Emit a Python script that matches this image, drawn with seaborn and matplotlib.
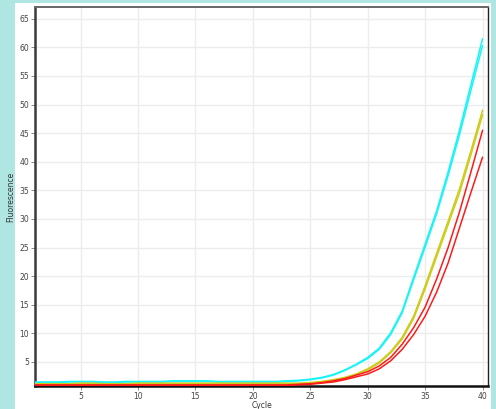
import numpy as np
import pandas as pd
import matplotlib
matplotlib.use("Agg")
import matplotlib.pyplot as plt
import seaborn as sns
from matplotlib.patches import Rectangle

cycles = list(range(1, 41))

cyan_a = [1.5, 1.5, 1.5, 1.6, 1.6, 1.6, 1.5, 1.5, 1.6, 1.6, 1.6, 1.6, 1.7, 1.7, 1.7, 1.7, 1.6, 1.6, 1.6, 1.6,
          1.6, 1.6, 1.7, 1.8, 2.0, 2.3, 2.8, 3.6, 4.6, 5.8, 7.4, 10.1, 13.9, 19.8, 25.6, 31.4, 38.2, 45.6, 53.6, 61.5]
cyan_b = [1.4, 1.4, 1.4, 1.5, 1.5, 1.5, 1.4, 1.4, 1.5, 1.5, 1.5, 1.5, 1.6, 1.6, 1.6, 1.6, 1.5, 1.5, 1.5, 1.5,
          1.5, 1.5, 1.6, 1.7, 1.9, 2.2, 2.7, 3.5, 4.5, 5.6, 7.2, 9.8, 13.6, 19.4, 25.1, 30.9, 37.6, 44.8, 52.6, 60.3]
yellow_a = [1.2, 1.2, 1.2, 1.2, 1.3, 1.3, 1.2, 1.2, 1.2, 1.3, 1.3, 1.3, 1.3, 1.3, 1.3, 1.3, 1.3, 1.3, 1.3, 1.3,
            1.3, 1.3, 1.3, 1.3, 1.4, 1.6, 1.9, 2.3, 2.9, 3.8, 5.0, 6.8, 9.3, 13.0, 18.3, 24.0, 29.6, 35.3, 42.0, 49.0]
yellow_b = [1.1, 1.1, 1.1, 1.1, 1.2, 1.2, 1.1, 1.1, 1.1, 1.2, 1.2, 1.2, 1.2, 1.2, 1.2, 1.2, 1.2, 1.2, 1.2, 1.2,
            1.2, 1.2, 1.2, 1.2, 1.3, 1.5, 1.8, 2.2, 2.8, 3.6, 4.8, 6.6, 9.0, 12.6, 17.8, 23.4, 29.0, 34.6, 41.3, 48.2]
red_a = [1.0, 1.0, 1.0, 1.0, 1.0, 1.0, 1.0, 1.0, 1.0, 1.0, 1.0, 1.0, 1.0, 1.0, 1.0, 1.0, 1.0, 1.0, 1.0, 1.0,
         1.0, 1.0, 1.0, 1.1, 1.2, 1.4, 1.7, 2.1, 2.7, 3.3, 4.3, 5.8, 8.1, 11.0, 14.6, 19.5, 25.0, 31.3, 38.3, 45.5]
red_b = [0.9, 0.9, 0.9, 0.9, 0.9, 0.9, 0.9, 0.9, 0.9, 0.9, 0.9, 0.9, 0.9, 0.9, 0.9, 0.9, 0.9, 0.9, 0.9, 0.9,
         0.9, 0.9, 0.9, 1.0, 1.1, 1.3, 1.5, 1.9, 2.4, 2.9, 3.8, 5.2, 7.2, 9.8, 13.0, 17.2, 22.3, 28.5, 34.7, 40.8]

series = {"cyan_a": cyan_a, "cyan_b": cyan_b, "yellow_a": yellow_a, "yellow_b": yellow_b,
          "red_a": red_a, "red_b": red_b}
palette = {"cyan_a": "#18f4f8", "cyan_b": "#18f4f8", "yellow_a": "#cccc1a", "yellow_b": "#cccc1a",
           "red_a": "#ff1a1a", "red_b": "#ff1a1a"}

df = pd.DataFrame([{"Cycle": c, "Fluorescence": v, "well": k}
                   for k, vals in series.items() for c, v in zip(cycles, vals)])

sns.set_style("whitegrid")
plt.rcParams['font.family'] = ['DejaVu Sans']

fig = plt.figure(figsize=(4.96, 4.09), dpi=100)
fig.patch.set_facecolor("#b0e6e2")
fig.add_artist(Rectangle((15/496, 0), 475.7/496, 406.3/409, transform=fig.transFigure,
                         facecolor="white", edgecolor="none", zorder=0))
ax = fig.add_axes([34.7/496, 1 - 386/409, (488.3 - 34.7)/496, (386 - 7.3)/409])
ax.set_facecolor("white")

sns.lineplot(data=df, x="Cycle", y="Fluorescence", hue="well", palette=palette,
             linewidth=1.1, legend=False, ax=ax, zorder=3)

ax.set_xlim(1, 40.5)
ax.set_ylim(0.8, 67)
ax.set_xticks(range(5, 41, 5))
ax.set_yticks(range(5, 66, 5))
ax.grid(True, color="#ececec", linewidth=1.0)
ax.tick_params(axis="both", labelsize=5.5, labelcolor="#444444", length=3, width=0.6,
               color="#777777", pad=1, direction="out")
ax.tick_params(axis="x", bottom=True)
ax.tick_params(axis="y", left=True)
ax.set_xlabel("Cycle", fontsize=5.5, color="#333333")
ax.xaxis.set_label_coords(0.5, -0.039)
ax.set_ylabel("Fluorescence", fontsize=5.5, color="#333333", labelpad=3)

for side, lw, col in [("left", 1.8, "#3a3a3a"), ("bottom", 1.8, "#111111"),
                      ("top", 1.4, "#666666"), ("right", 1.0, "#222222")]:
    ax.spines[side].set_visible(True)
    ax.spines[side].set_linewidth(lw)
    ax.spines[side].set_color(col)

fig.savefig("out.png", dpi=100)
